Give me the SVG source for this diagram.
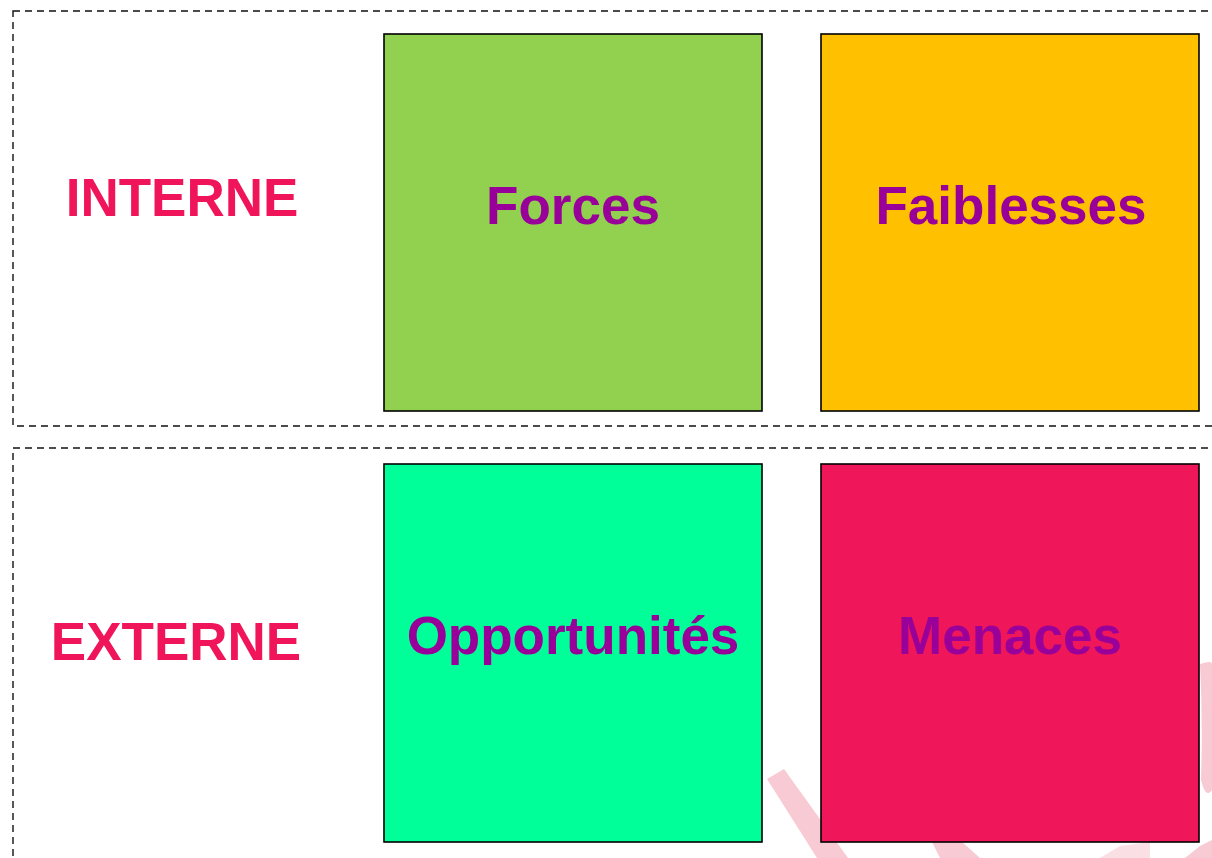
<svg xmlns="http://www.w3.org/2000/svg" width="1212" height="858" viewBox="0 0 1212 858">
  <style>
    .zone { fill: none; stroke: #111; stroke-width: 1.4; stroke-dasharray: 7 5; }
    .card { stroke: #000; stroke-width: 1.6; }
    .title { font-family: "Liberation Sans", Arial, sans-serif; font-weight: bold; font-size: 53px; text-anchor: middle; fill: #990099; }
    .axis { font-family: "Liberation Sans", Arial, sans-serif; font-weight: bold; font-size: 53px; text-anchor: middle; fill: #f0145a; }
    .mark { fill: #f7cad4; }
  </style>

  <!-- faint background emblem -->
  <g id="emblem">
    <polygon class="mark" points="767,779 784,769 848,858 817,858"/>
    <polygon class="mark" points="932,842 962,842 980,858 940,858"/>
    <polygon class="mark" points="1100,858 1120,846 1150,842 1150,858" opacity="0.6"/>
    <polygon class="mark" points="1185,858 1200,846 1212,840 1212,858"/>
    <path class="mark" d="M1200,664 Q1212,660 1212,664 L1212,790 Q1206,800 1201,780 Q1203,720 1200,664 Z"/>
  </g>

  <!-- dashed zones -->
  <g id="zones">
    <rect class="zone" x="13" y="11" width="1220" height="415"/>
    <rect class="zone" x="13" y="448" width="1220" height="430"/>
  </g>

  <g id="label-interne">
    <text class="axis" x="182" y="216">INTERNE</text>
  </g>
  <g id="label-externe">
    <text class="axis" x="176" y="660">EXTERNE</text>
  </g>

  <g id="forces">
    <rect class="card" x="384" y="34" width="378" height="377" fill="#92d050"/>
    <text class="title" x="573" y="224">Forces</text>
  </g>
  <g id="faiblesses">
    <rect class="card" x="821" y="34" width="378" height="377" fill="#ffc000"/>
    <text class="title" x="1011" y="224">Faiblesses</text>
  </g>
  <g id="opportunites">
    <rect class="card" x="384" y="464" width="378" height="378" fill="#00ff99"/>
    <text class="title" x="573" y="654">Opportunités</text>
  </g>
  <g id="menaces">
    <rect class="card" x="821" y="464" width="378" height="378" fill="#f0165a"/>
    <text class="title" x="1010" y="654">Menaces</text>
  </g>

  <g id="connectors"/>
</svg>
